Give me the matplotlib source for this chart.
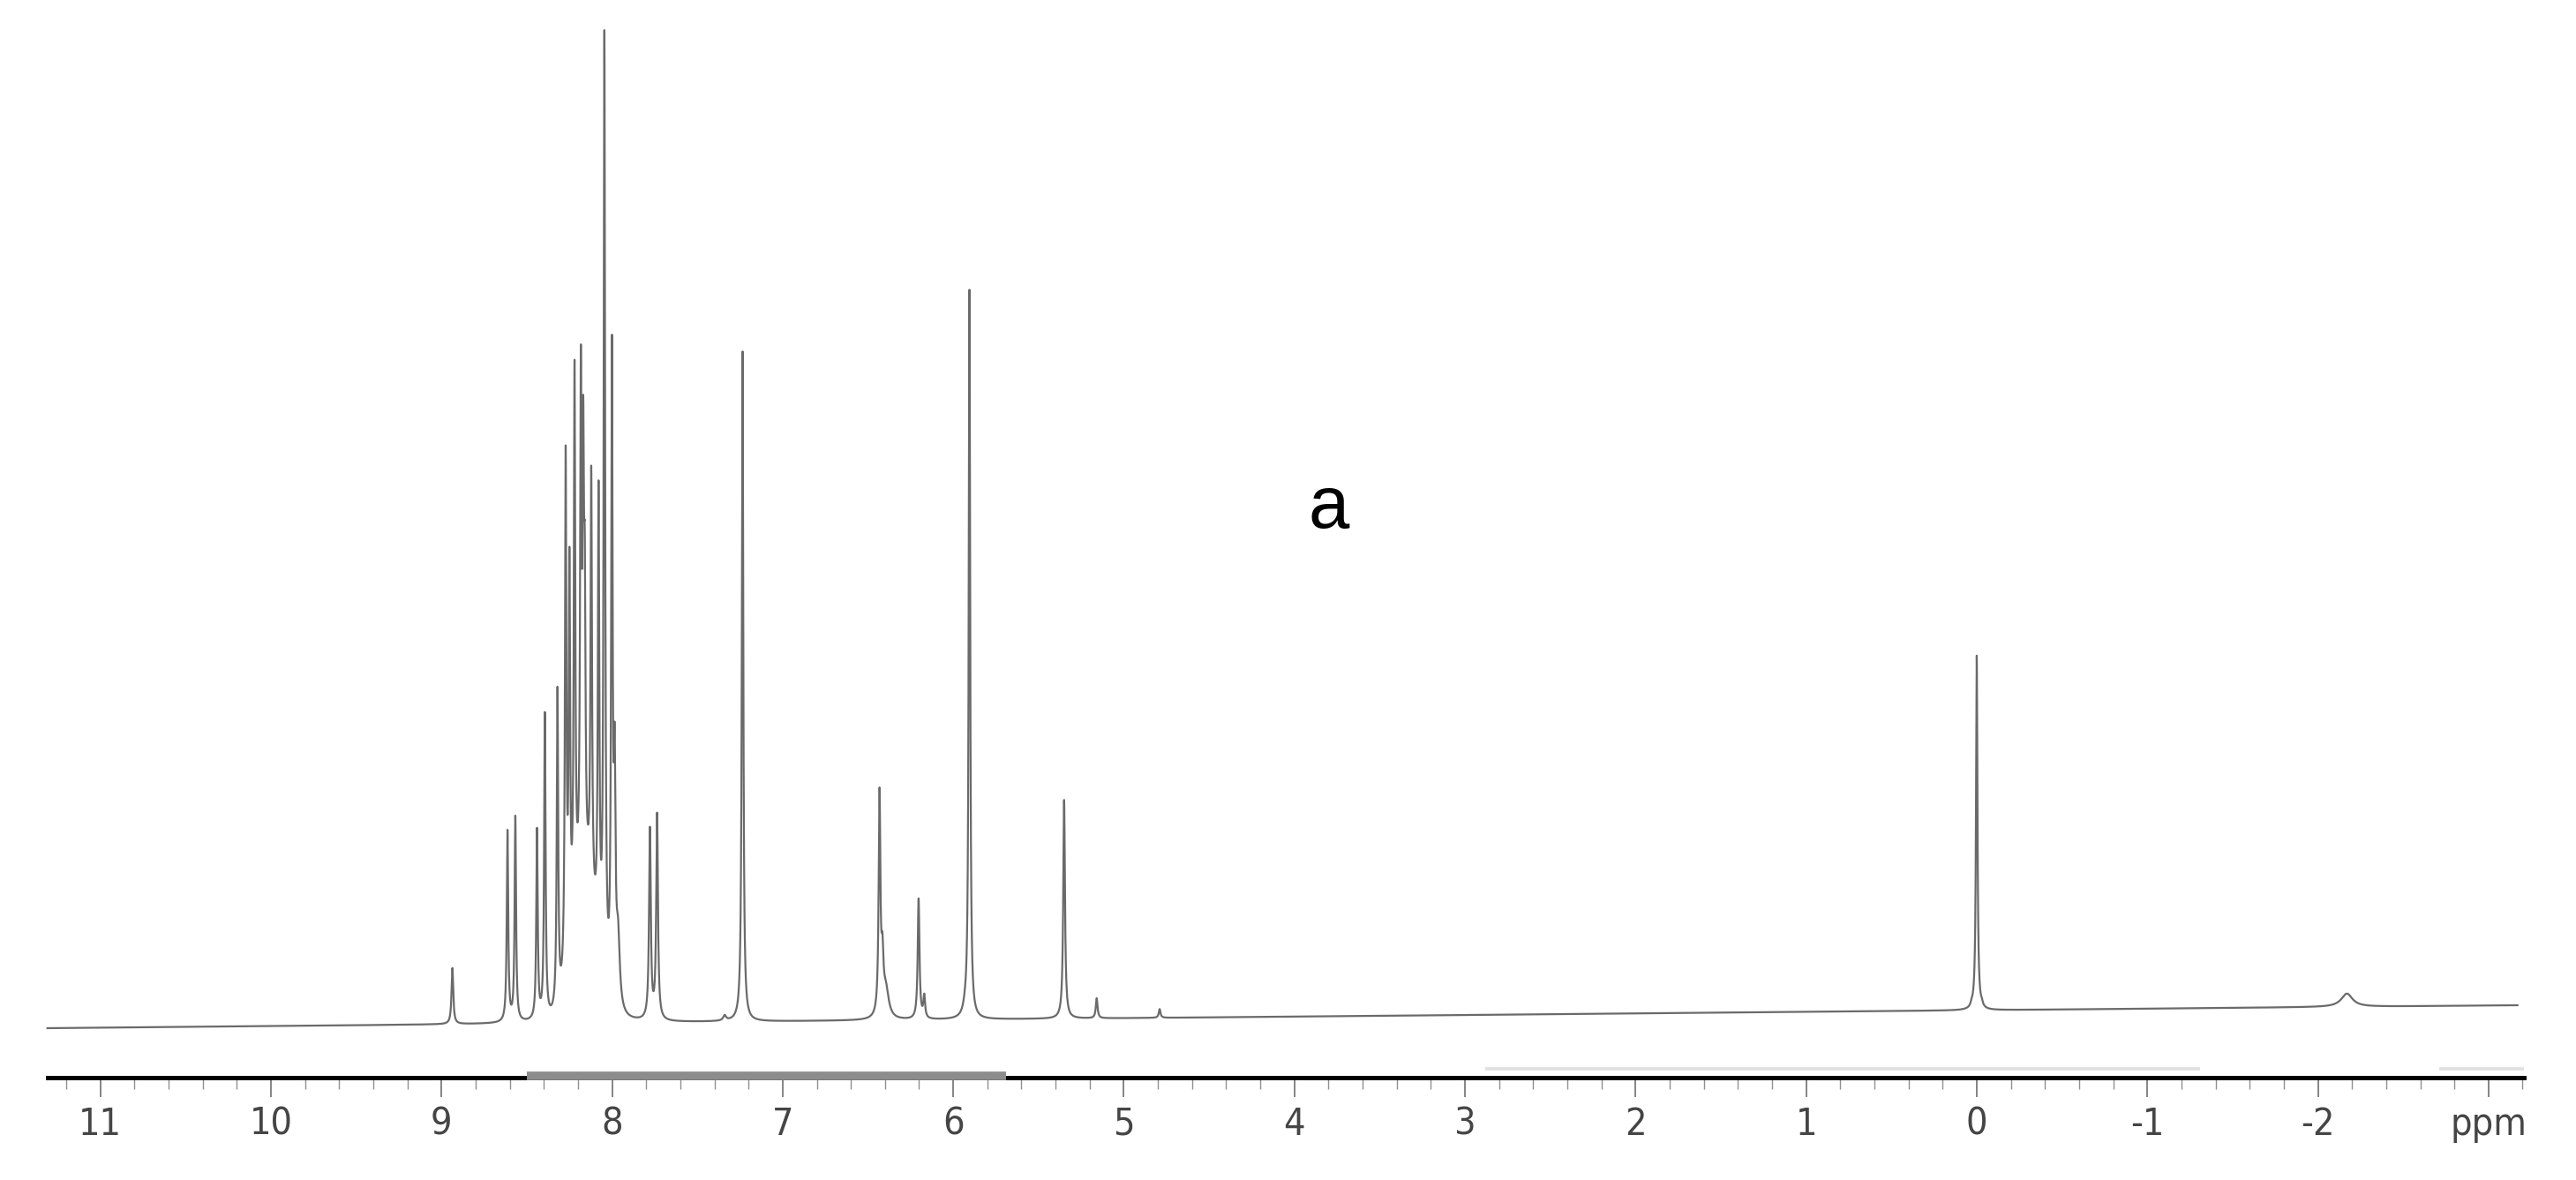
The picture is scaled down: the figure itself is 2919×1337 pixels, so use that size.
import numpy as np
import matplotlib.pyplot as plt

# 1H NMR spectrum, peaks
# shift (ppm), peak height (pixels above baseline), half width (ppm)
shifts = [8.936, 8.613, 8.567, 8.440, 8.394, 8.320, 8.272, 8.250, 8.220, 8.183,
          8.169, 8.160, 8.122, 8.079, 8.045, 8.001, 7.985, 7.965,
          7.778, 7.736, 7.340, 7.235, 6.432, 6.415, 6.395, 6.203, 6.170,
          5.930, 5.905, 5.880, 5.350, 5.159, 4.790,
          0.030, 0.000, -0.030, -2.170]
heights = [64, 220, 236, 222, 353, 382, 655, 540, 752, 769,
           712, 560, 632, 615, 1125, 780, 340, 120,
           222, 238, 8, 760, 264, 100, 45, 138, 30,
           38, 825, 22, 248, 23, 10,
           14, 402, 14, 15]
widths = [0.006, 0.005, 0.005, 0.005, 0.005, 0.005, 0.005, 0.005, 0.005, 0.005,
          0.005, 0.005, 0.005, 0.005, 0.005, 0.005, 0.006, 0.012,
          0.006, 0.006, 0.01, 0.005, 0.006, 0.007, 0.02, 0.006, 0.006,
          0.015, 0.005, 0.015, 0.006, 0.006, 0.006,
          0.006, 0.005, 0.006, 0.04]

# broad envelope under the aromatic multiplet
hump_center = 8.16
hump_height = 150
hump_sigma = 0.065

# baseline (pixels from top) at the two ends of the trace
trace_start, trace_end = 11.31, -3.17
baseline_start, baseline_end = 1165, 1139

# scale annotations
major_ticks = [11, 10, 9, 8, 7, 6, 5, 4, 3, 2, 1, 0, -1, -2, -3]
tick_labels = ['11', '10', '9', '8', '7', '6', '5', '4', '3', '2', '1', '0', '-1', '-2', 'ppm']
integral_dark = [(8.50, 5.69)]
integral_light = [(2.88, -1.31), (-2.71, -3.21)]


def hump(v):
    return hump_height * np.exp(-0.5 * ((v - hump_center) / hump_sigma) ** 2)


# overlapping lines add up, so solve for the line amplitudes that give the read heights
s = np.array(shifts)
w = np.array(widths)
A = w[None, :] ** 2 / ((s[:, None] - s[None, :]) ** 2 + w[None, :] ** 2)
amps = np.clip(np.linalg.lstsq(A, np.array(heights) - hump(s), rcond=None)[0], 0, None)

x = np.linspace(trace_start, trace_end, 40000)
base = baseline_start + (baseline_end - baseline_start) * (trace_start - x) / (trace_start - trace_end)
signal = hump(x)
for sj, aj, wj in zip(s, amps, w):
    signal += aj * wj ** 2 / ((x - sj) ** 2 + wj ** 2)
y = base - signal

fig = plt.figure(figsize=(29.19, 13.37), dpi=100)
ax = fig.add_axes([0, 0, 1, 1])
ax.set_xlim(11.588, -3.513)
ax.set_ylim(1337, 0)

ax.plot(x, y, color='#6a6a6a', lw=1.6)

# axis line and ticks
for side in ['top', 'left', 'right']:
    ax.spines[side].set_visible(False)
ax.spines['bottom'].set_position(('data', 1221))
ax.spines['bottom'].set_bounds(11.31, -3.21)
ax.spines['bottom'].set_linewidth(3.6)
ax.spines['bottom'].set_color('black')

ax.set_yticks([])
ax.set_xticks(major_ticks)
ax.set_xticklabels(tick_labels, family='DejaVu Sans', fontstretch='condensed')
ax.set_xticks(np.arange(11.2, -3.3, -0.2), minor=True)
ax.tick_params(axis='x', which='major', direction='out', length=16, width=1.2,
               color='#707070', pad=7, labelsize=31, labelcolor='#454545')
ax.tick_params(axis='x', which='minor', direction='out', length=9, width=1.0, color='#909090')

# integral bars on the axis
for x0, x1 in integral_dark:
    ax.hlines(1218.5, x0, x1, color='#8c8c8c', lw=7, zorder=3)
for x0, x1 in integral_light:
    ax.hlines(1211, x0, x1, color='#e2e2e2', lw=3, zorder=3)

ax.text(3.80, 576, 'a', fontsize=60, family='Liberation Sans', ha='center', va='center')

fig.savefig('out.png', dpi=100)
